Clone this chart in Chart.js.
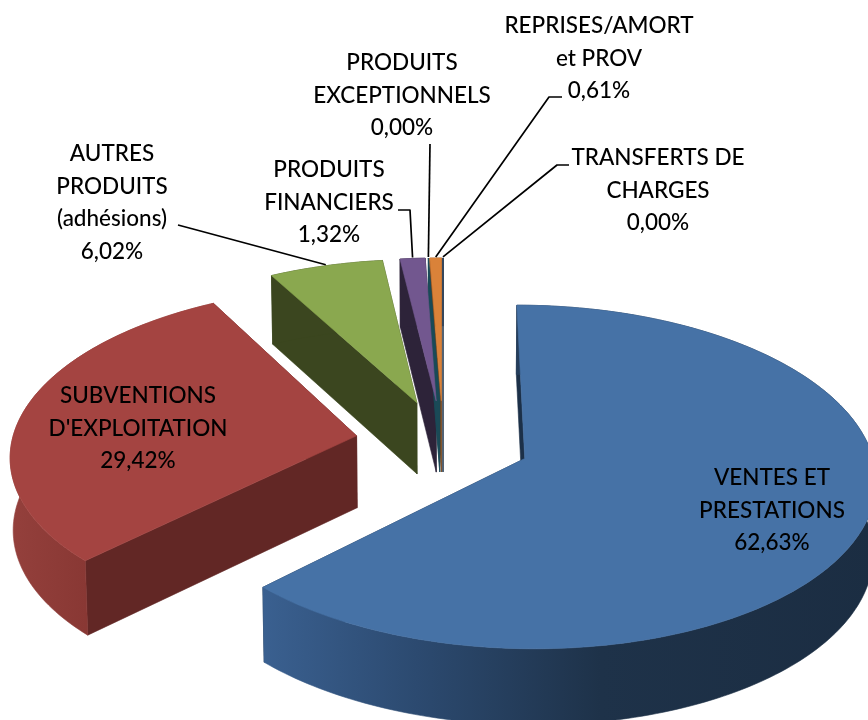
<!DOCTYPE html>
<html><head><meta charset="utf-8">
<style>html,body{margin:0;padding:0;background:#fff}canvas{display:block}</style>
<script src="https://cdn.jsdelivr.net/npm/chart.js@4"></script>
</head><body><canvas id="c" width="868" height="720"></canvas>
<script>
const categories = ["VENTES ET\nPRESTATIONS","SUBVENTIONS\nD'EXPLOITATION","AUTRES\nPRODUITS\n(adhésions)","PRODUITS\nFINANCIERS","PRODUITS\nEXCEPTIONNELS","REPRISES/AMORT\net PROV","TRANSFERTS DE\nCHARGES"];
const values = [62.63,29.42,6.02,1.32,0.00,0.61,0.00];
const topColors = ["#4672A6","#A44441","#8AA84F","#72578F","#4198AF","#DA8239","#2C4D75"];
const sideColors = ["#1C3048","#622725","#3B461F","#2D2339","#1A4A57","#7A4A20","#1C3048"];
const wallStops = [
  [[0,"#3A6090"],[0.25,"#2C4A70"],[0.55,"#1E3249"],[1,"#1B2D42"]],
  [[0,"#94403C"],[1,"#893834"]],
  null,null,null,null,null];
const explode = 86;

// presentation only: label centres [x, first line y], and leader line starts/elbows
const labelPos = [[772,478],[138,396],[112,154],[329,170],[402,63],[599,26],[658,158]];
const leaders = [null,null,[[178,225],[193,229]],[[398,210],[410,210]],[[430,144]],[[562,97],[549,97]],[[569,165],[557,165]]];

const P = 0.11, K = 0.492, KX = 1.02, DEPTH = 72, RREF = 350;
function project(cx,cy,X,Y){const w=1-P*Y/RREF;return [cx+KX*X/w,cy+K*Y/w];}
function outlinePoint(a,ang,r){
  const mid=(a.startAngle+a.endAngle)/2,o=a.options.offset||0;
  return project(a.x,a.y,Math.cos(ang)*r+Math.cos(mid)*o,Math.sin(ang)*r+Math.sin(mid)*o);
}
function poly(ctx,pts,fill){
  ctx.beginPath();pts.forEach((p,i)=>i?ctx.lineTo(p[0],p[1]):ctx.moveTo(p[0],p[1]));ctx.closePath();
  ctx.fillStyle=fill;ctx.strokeStyle=fill;ctx.lineWidth=0.6;ctx.fill();ctx.stroke();
}
function arcPts(a){
  const n=Math.max(2,Math.ceil((a.endAngle-a.startAngle)/0.02)),pts=[];
  for(let k=0;k<=n;k++)pts.push(outlinePoint(a,a.startAngle+(a.endAngle-a.startAngle)*k/n,a.outerRadius));
  return pts;
}
const pie3d={id:'pie3d',
  beforeDatasetsDraw(chart){
    const ctx=chart.ctx,arcs=chart.getDatasetMeta(0).data;
    const cx=arcs[0].x,cy=arcs[0].y;
    const down=p=>[cx+(p[0]-cx)*0.993,p[1]+DEPTH+(p[1]-cy)*0.02];
    [5,6,3,2,1,0,4].forEach(i=>{
      const a=arcs[i],apex=outlinePoint(a,0,0),pts=arcPts(a);
      const s=pts[0],e=pts[pts.length-1],c=sideColors[i];
      poly(ctx,[apex,e,down(e),down(apex)],c);
      poly(ctx,[apex,s,down(s),down(apex)],c);
      let wall=c;
      if(wallStops[i]){
        const xs=pts.filter(p=>p[1]>apex[1]).map(p=>p[0]);
        const g=ctx.createLinearGradient(Math.min(...xs),0,Math.max(...xs),0);
        wallStops[i].forEach(t=>g.addColorStop(t[0],t[1]));wall=g;
      }
      poly(ctx,pts.concat(pts.slice().reverse().map(down)),wall);
    });
    [6,5,4,3,2,1,0].forEach(i=>{
      const a=arcs[i];if(values[i]===0)return;
      poly(ctx,[outlinePoint(a,0,0)].concat(arcPts(a)),topColors[i]);
    });
    // leaders
    ctx.strokeStyle="#000";ctx.lineWidth=1.7;ctx.lineJoin="round";
    leaders.forEach((l,i)=>{
      if(!l)return;
      const a=arcs[i],end=outlinePoint(a,(a.startAngle+a.endAngle)/2,a.outerRadius);
      ctx.beginPath();ctx.moveTo(l[0][0],l[0][1]);l.slice(1).forEach(p=>ctx.lineTo(p[0],p[1]));ctx.lineTo(end[0],end[1]-1);ctx.stroke();
    });
    // labels
    ctx.fillStyle="#000";ctx.font="500 22.5px Lato";ctx.textAlign="center";ctx.textBaseline="middle";
    categories.forEach((cat,i)=>{
      const lines=cat.split("\n").concat(values[i].toFixed(2).replace(".",",")+"%");
      lines.forEach((t,j)=>ctx.fillText(t,labelPos[i][0],labelPos[i][1]+j*32.6));
    });
    return false;
  }
};
new Chart(document.getElementById('c'),{
  type:'pie',
  data:{labels:categories.map(s=>s.replace(/\n/g," ")),datasets:[{data:values,backgroundColor:topColors,borderWidth:0,offset:explode,radius:338}]},
  options:{responsive:false,animation:false,rotation:0,
    layout:{padding:{left:18,top:164,right:0,bottom:0}},
    plugins:{legend:{display:false},tooltip:{enabled:false}}},
  plugins:[pie3d]
});
</script></body></html>
